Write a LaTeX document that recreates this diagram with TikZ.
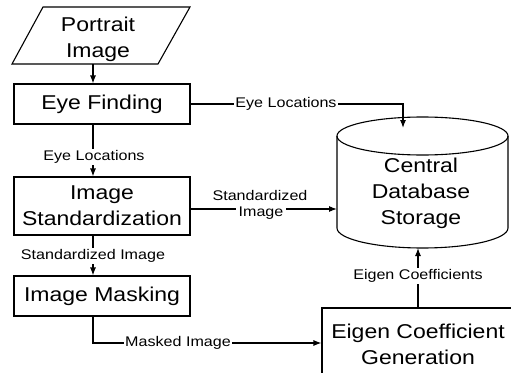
\documentclass[tikz,border=0pt]{standalone}
\usepackage{fontspec}
\setmainfont{Liberation Sans}[FakeStretch=1.15]
\usetikzlibrary{arrows.meta}
\tikzset{
  big/.style={font=\fontsize{20}{26}\selectfont, align=center},
  small/.style={font=\fontsize{14}{18}\selectfont, align=center},
  box/.style={draw, line width=1.1pt, inner sep=0pt},
  lbl/.style={small, fill=white, inner sep=1.5pt},
  conn/.style={line width=1.1pt},
  arr/.style={conn, -{Latex[length=8pt,width=6pt]}}
}
\begin{document}
\begin{tikzpicture}[x=1pt,y=-1pt]
\useasboundingbox (0,0) rectangle (511,372);
\clip (0,0) rectangle (511,372);
% Portrait image (parallelogram)
\draw[line width=1.1pt] (43,7) -- (190,7) -- (158,64) -- (12,64) -- cycle;
\node[big] (pi) at (98,39) {Portrait\\Image};
\coordinate (pib) at (93,64);
% boxes
\node[box, big, minimum width=176pt, minimum height=40pt] (ef) at (102,104) {Eye Finding};
\node[box, big, minimum width=176pt, minimum height=58pt] (is) at (102,206) {Image\\Standardization};
\node[box, big, minimum width=176pt, minimum height=40pt] (im) at (102,296) {Image Masking};
\node[box, minimum width=192pt, minimum height=80pt] (eg) at (418,348) {};
\node[big] (egt) at (418,344) {Eigen Coefficient\\Generation};
% cylinder
\draw[line width=1.1pt] (422.5,136) ellipse [x radius=85.5pt, y radius=19pt];
\draw[line width=1.1pt] (337,136) -- (337,228) arc [start angle=180, end angle=360, x radius=85.5pt, y radius=20pt] -- (508,136);
\node[big] (db) at (421,193) {Central\\Database\\Storage};
\coordinate (dbtop) at (403,128);
\coordinate (dbleft) at (337,209);
\coordinate (dbbot) at (418,248);
% connectors
\draw[arr] (pib) -- (pib |- ef.north);
\draw[arr] (ef.south -| pib) -- (is.north -| pib);
\node[lbl] (l1) at (94,157) {Eye Locations};
\draw[arr] (is.south -| pib) -- (im.north -| pib);
\node[lbl] (l2) at (93,256) {Standardized Image};
\coordinate (mk) at (93,343);
\draw[arr] (im.south -| mk) -- (mk) -- (mk -| eg.west);
\node[lbl] (l3) at (178,343) {Masked Image};
\draw[arr] (ef.east) -- (dbtop |- ef.east) -- (dbtop);
\node[lbl] (l4) at (286,104) {Eye Locations};
\draw[arr] (is.east |- dbleft) -- (dbleft);
\node[lbl, inner sep=2.5pt] (l5b) at (261,213) {Image};
\node[small, inner sep=0pt] (l5a) at (260,195) {Standardized};
\draw[arr] (eg.north) -- (dbbot);
\node[lbl] (l6) at (418,276) {Eigen Coefficients};
\end{tikzpicture}
\end{document}
